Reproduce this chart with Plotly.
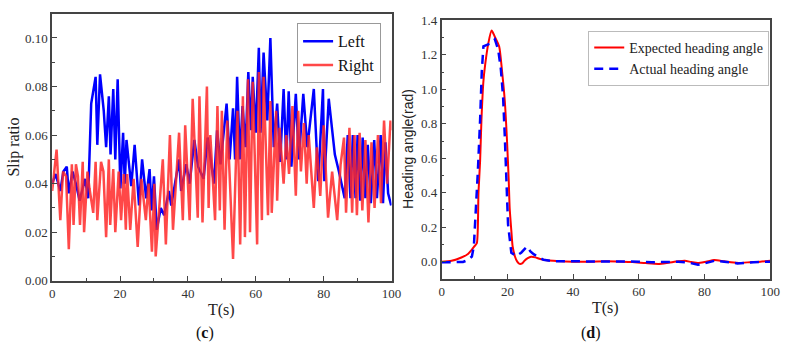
import plotly.graph_objects as go

# ---------------- Panel (c): slip ratio ----------------
left_t = [0, 1.0, 2.4, 3.3, 4.3, 4.9, 6.0, 7.0, 8.1, 9.7, 10.6, 11.5, 12.8, 13.3, 14.1, 15.2, 15.9,
          16.7, 17.2, 18.0, 18.6, 19.3, 20.1, 20.9, 21.4, 21.9, 23.3, 24.3, 25.6, 26.5, 27.7, 28.7,
          29.3, 30.0, 30.8, 32.0, 33.0, 34.4, 35.1, 37.4, 38.0, 39.5, 40.5, 41.9, 43.0, 44.6, 45.8,
          47.7, 48.6, 49.6, 51.4, 52.3, 53.3, 53.9, 54.5, 55.3, 56.1, 57.0, 57.8, 58.6, 59.1, 60.0,
          60.9, 61.4, 62.3, 63.4, 64.3, 65.3, 66.3, 67.2, 68.2, 69.0, 69.7, 70.5, 71.8, 72.7, 74.0,
          75.2, 77.1, 78.4, 79.8, 80.2, 81.5, 83.3, 84.5, 86.2, 87.1, 87.9, 88.6, 89.4, 90.0, 90.8,
          91.5, 92.3, 93.0, 93.9, 94.9, 95.7, 96.8, 97.5, 98.2, 99.0, 99.9]
left_v = [0.040, 0.044, 0.037, 0.045, 0.047, 0.036, 0.045, 0.040, 0.033, 0.042, 0.034, 0.073, 0.084,
          0.056, 0.085, 0.070, 0.055, 0.076, 0.052, 0.079, 0.050, 0.083, 0.038, 0.061, 0.040, 0.058,
          0.039, 0.056, 0.031, 0.050, 0.034, 0.046, 0.029, 0.043, 0.021, 0.030, 0.027, 0.037, 0.031,
          0.050, 0.037, 0.048, 0.040, 0.058, 0.047, 0.042, 0.059, 0.040, 0.062, 0.048, 0.073, 0.050,
          0.071, 0.050, 0.084, 0.050, 0.072, 0.055, 0.086, 0.062, 0.084, 0.061, 0.096, 0.061, 0.094,
          0.066, 0.100, 0.055, 0.073, 0.049, 0.079, 0.050, 0.078, 0.047, 0.077, 0.050, 0.077, 0.055,
          0.079, 0.041, 0.079, 0.041, 0.075, 0.052, 0.045, 0.034, 0.060, 0.034, 0.060, 0.034, 0.060,
          0.033, 0.059, 0.034, 0.056, 0.032, 0.058, 0.034, 0.060, 0.032, 0.057, 0.036, 0.031]

right_t = [0, 1.3, 2.4, 3.2, 4.1, 4.9, 5.8, 6.3, 7.0, 7.6, 8.2, 9.0, 9.4, 10.4, 11.0, 12.1, 12.8,
           13.3, 14.4, 15.1, 15.9, 16.7, 17.1, 18.0, 18.6, 19.6, 20.3, 21.1, 21.7, 22.1, 23.0, 24.0,
           25.2, 26.3, 27.6, 28.4, 29.4, 30.1, 30.5, 31.5, 32.6, 33.5, 34.7, 35.6, 37.4, 38.5, 39.2,
           40.5, 41.4, 42.9, 43.4, 44.3, 45.6, 46.1, 46.6, 48.0, 48.7, 49.4, 50.0, 50.8, 51.6, 52.4,
           53.3, 54.6, 55.4, 56.2, 56.8, 57.7, 58.3, 59.1, 60.4, 60.9, 61.8, 62.3, 63.6, 64.3, 64.7,
           66.0, 66.3, 67.0, 68.2, 69.0, 69.8, 70.8, 71.8, 72.5, 73.3, 74.2, 75.0, 75.6, 77.1, 78.0,
           79.0, 80.0, 81.3, 82.5, 84.0, 85.0, 86.0, 86.6, 87.6, 88.4, 89.1, 89.8, 90.6, 91.4, 92.3,
           93.2, 94.1, 95.0, 96.0, 96.9, 97.8, 98.7, 99.7, 100.0]
right_v = [0.037, 0.054, 0.025, 0.045, 0.043, 0.013, 0.048, 0.023, 0.048, 0.043, 0.023, 0.049, 0.020,
           0.045, 0.038, 0.028, 0.049, 0.025, 0.049, 0.045, 0.018, 0.050, 0.023, 0.046, 0.020, 0.045,
           0.025, 0.044, 0.021, 0.044, 0.021, 0.042, 0.014, 0.042, 0.025, 0.040, 0.012, 0.040, 0.010,
           0.030, 0.050, 0.015, 0.060, 0.021, 0.061, 0.025, 0.064, 0.025, 0.075, 0.026, 0.076, 0.024,
           0.080, 0.030, 0.060, 0.025, 0.072, 0.029, 0.070, 0.021, 0.066, 0.040, 0.009, 0.070, 0.015,
           0.076, 0.018, 0.083, 0.020, 0.082, 0.015, 0.086, 0.025, 0.084, 0.027, 0.074, 0.028, 0.070,
           0.033, 0.063, 0.040, 0.060, 0.044, 0.072, 0.035, 0.070, 0.045, 0.065, 0.040, 0.060, 0.030,
           0.055, 0.035, 0.064, 0.026, 0.045, 0.025, 0.048, 0.059, 0.028, 0.063, 0.028, 0.060, 0.027,
           0.061, 0.029, 0.058, 0.024, 0.057, 0.030, 0.060, 0.032, 0.066, 0.040, 0.066, 0.062]

# ---------------- Panel (d): heading angle ----------------
exp_t = [0, 3, 6, 8, 9.2, 10.0, 10.7, 11.2, 11.7, 12.1, 12.7, 13.2, 14.2, 15.2, 16.2, 17.5, 18.4,
         19.2, 19.9, 20.4, 20.7, 21.2, 21.6, 22.3, 23.0, 23.7, 24.5, 25.2, 26.2, 27.2, 28.5, 30, 32,
         35, 40, 45, 50, 55, 58, 62, 66, 69, 72, 74, 76, 78, 80.5, 83, 86, 90, 94, 97, 100]
exp_v = [0.0, 0.005, 0.024, 0.045, 0.07, 0.09, 0.107, 0.40, 0.586, 0.82, 1.046, 1.138, 1.267, 1.341,
         1.304, 1.249, 1.10, 0.935, 0.696, 0.475, 0.31, 0.18, 0.088, 0.03, 0.0, -0.013, -0.01, 0.005,
         0.02, 0.028, 0.025, 0.015, 0.008, 0.004, 0.0, 0.0, 0.002, 0.0, -0.002, -0.008, -0.013, -0.006,
         0.002, 0.005, -0.002, -0.008, 0.0, 0.009, 0.002, -0.007, -0.003, 0.0, 0.005]

act_t = [0, 4, 6.5, 8, 9.2, 9.8, 10.2, 10.6, 11.0, 11.7, 12.2, 12.7, 14.2, 15.2, 16.2, 17.2, 18.0,
         18.7, 19.2, 19.7, 20.2, 21.2, 22.7, 24.2, 26.0, 27.0, 28.1, 31.0, 34, 40, 50, 56, 60, 64,
         68, 72, 75, 78, 80, 83, 86, 90, 95, 100]
act_v = [-0.004, -0.004, -0.002, 0.01, 0.03, 0.09, 0.217, 0.40, 0.52, 0.825, 1.10, 1.249, 1.26,
         1.27, 1.29, 1.23, 1.12, 0.954, 0.733, 0.475, 0.217, 0.052, 0.033, 0.052, 0.088, 0.06,
         0.042, 0.011, 0.003, 0.002, 0.0, 0.002, 0.0, -0.004, -0.004, 0.0, -0.005, -0.018, -0.01,
         0.005, 0.0, -0.01, -0.003, 0.0]

W, H = 792, 352
SERIF = "Liberation Serif, Times New Roman, serif"
SANS = "Liberation Sans, Arial, sans-serif"

fig = go.Figure()
fig.add_trace(go.Scatter(x=left_t, y=left_v, mode="lines", name="Left",
                         line=dict(color="#0000ff", width=2.5), xaxis="x", yaxis="y",
                         legend="legend"))
fig.add_trace(go.Scatter(x=right_t, y=right_v, mode="lines", name="Right",
                         line=dict(color="rgba(255,40,40,0.85)", width=2.5), xaxis="x", yaxis="y",
                         legend="legend"))
fig.add_trace(go.Scatter(x=exp_t, y=exp_v, mode="lines", name="Expected heading angle",
                         line=dict(color="#ff0000", width=2, shape="spline", smoothing=0.6),
                         xaxis="x2", yaxis="y2", legend="legend2"))
fig.add_trace(go.Scatter(x=act_t, y=act_v, mode="lines", name="Actual heading angle",
                         line=dict(color="#0000ff", width=2.5, dash="9px,6px"),
                         xaxis="x2", yaxis="y2", legend="legend2"))

def px(xp):
    return xp / W

def py(yp):
    return (H - yp) / H

axis_common = dict(showgrid=False, zeroline=False, showline=True, mirror=True,
                   linecolor="#444", linewidth=1.5, ticks="inside", ticklen=5,
                   tickcolor="#444", tickwidth=1.2,
                   tickfont=dict(family=SERIF, size=13, color="#333"))

fig.update_layout(
    width=W, height=H, margin=dict(l=0, r=0, t=0, b=0),
    paper_bgcolor="white", plot_bgcolor="white",
    xaxis=dict(domain=[px(50), px(395)], range=[0, 100], dtick=20, anchor="y",
               minor=dict(dtick=10, ticks="inside", ticklen=3, tickcolor="#444"),
               **axis_common),
    yaxis=dict(domain=[py(286), py(7)], range=[0, 0.11], dtick=0.02, tickformat=".2f",
               anchor="x", minor=dict(dtick=0.01, ticks="inside", ticklen=3, tickcolor="#444"),
               **axis_common),
    xaxis2=dict(domain=[px(446), px(780)], range=[0, 100], dtick=20, anchor="y2",
                minor=dict(dtick=10, ticks="inside", ticklen=3, tickcolor="#444"),
                **axis_common),
    yaxis2=dict(domain=[py(284), py(14)], range=[-0.1, 1.4], dtick=0.2, tickformat=".1f",
                anchor="x2", minor=dict(dtick=0.1, ticks="inside", ticklen=3, tickcolor="#444"),
                **axis_common),
    legend=dict(x=px(299), y=py(17), xanchor="left", yanchor="top",
                bgcolor="white", bordercolor="#999", borderwidth=1,
                font=dict(family=SERIF, size=16, color="#111"),
                tracegroupgap=0, itemwidth=30),
    legend2=dict(x=px(595), y=py(25), xanchor="left", yanchor="top",
                 bgcolor="white", bordercolor="#bbb", borderwidth=1,
                 font=dict(family=SERIF, size=14, color="#222"),
                 tracegroupgap=0, itemwidth=30),
    showlegend=True,
)

annots = [
    dict(text="Slip ratio", x=px(11), y=py(146), textangle=-90,
         font=dict(family=SERIF, size=16, color="#222")),
    dict(text="Heading angle(rad)", x=px(411), y=py(148), textangle=-90,
         font=dict(family=SANS, size=14, color="#222")),
    dict(text="T(s)", x=px(222), y=py(316), font=dict(family=SERIF, size=16, color="#222")),
    dict(text="T(s)", x=px(613), y=py(314), font=dict(family=SERIF, size=16, color="#222")),
    dict(text="(<b>c</b>)", x=px(205), y=py(340), font=dict(family=SERIF, size=16, color="#111")),
    dict(text="(<b>d</b>)", x=px(598), y=py(340), font=dict(family=SERIF, size=16, color="#111")),
]
for a in annots:
    fig.add_annotation(xref="paper", yref="paper", showarrow=False,
                       xanchor="center", yanchor="middle", **a)

fig.write_html("out.html")
